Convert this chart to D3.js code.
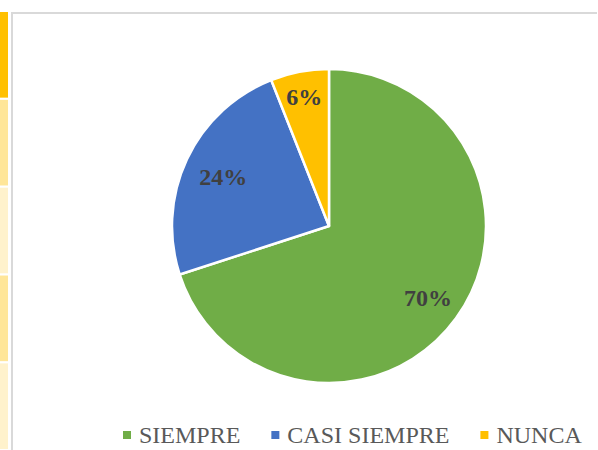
<!DOCTYPE html>
<html>
<head>
<meta charset="utf-8">
<script src="https://cdn.jsdelivr.net/npm/d3@7"></script>
<style>
  body { margin: 0; background: #fff; }
  svg { display: block; }
  text { font-family: "Times New Roman", "Liberation Serif", Times, serif; }
</style>
</head>
<body>
<div id="chart-area"></div>
<script>
// Data
var categories = ["SIEMPRE", "CASI SIEMPRE", "NUNCA"];
var values = [70, 24, 6];
var colors = ["#70AD47", "#4472C4", "#FFC000"];

// Background table strips on the left edge
var stripColors = ["#FFC000", "#FFE699", "#FFF2CC", "#FFE699", "#FFF2CC"];

var width = 598,
    height = 450;

var svg = d3.select("#chart-area").append("svg")
    .attr("width", width)
    .attr("height", height);

// Strips (part of the spreadsheet behind the chart)
var stripY = d3.scaleBand()
    .domain(d3.range(stripColors.length))
    .range([12, 449])
    .paddingInner(0.025);

svg.selectAll("rect.strip")
    .data(stripColors)
    .enter().append("rect")
    .attr("class", "strip")
    .attr("x", 0)
    .attr("y", (d, i) => stripY(i))
    .attr("width", 8)
    .attr("height", stripY.bandwidth())
    .attr("fill", (d) => d);

// Chart frame
svg.append("path")
    .attr("d", "M12,452 L12,13 L597,13")
    .attr("fill", "none")
    .attr("stroke", "#D9D9D9")
    .attr("stroke-width", 2);

// Pie
var cx = 329, cy = 226, radius = 157;

var g = svg.append("g")
    .attr("transform", "translate(" + cx + "," + cy + ")");

var pie = d3.pie().sort(null).value((d) => d);
var arcs = pie(values);

var arc = d3.arc().innerRadius(0).outerRadius(radius);

// label distance from centre, as share of the radius (best-fit placement)
function labelPos(d) {
    var share = (d.endAngle - d.startAngle) / (2 * Math.PI);
    var k = share > 0.5 ? 0.78 : share > 0.15 ? 0.745 : 0.84;
    var a = (d.startAngle + d.endAngle) / 2;
    return [Math.sin(a) * radius * k, -Math.cos(a) * radius * k];
}

g.selectAll("path.slice")
    .data(arcs)
    .enter().append("path")
    .attr("class", "slice")
    .attr("d", arc)
    .attr("fill", (d, i) => colors[i])
    .attr("stroke", "#fff")
    .attr("stroke-width", 2.5)
    .attr("stroke-linejoin", "round");

g.selectAll("text.label")
    .data(arcs)
    .enter().append("text")
    .attr("class", "label")
    .attr("transform", (d) => "translate(" + labelPos(d) + ")")
    .attr("text-anchor", "middle")
    .attr("dy", "0.35em")
    .attr("font-weight", "bold")
    .attr("font-size", 24)
    .attr("fill", "#404040")
    .text((d) => d.data + "%");

// Legend
var legend = svg.append("g").attr("class", "legend");
var lx = 123, ly = 443;

categories.forEach((c, i) => {
    legend.append("rect")
        .attr("x", lx)
        .attr("y", ly - 12)
        .attr("width", 8)
        .attr("height", 8)
        .attr("fill", colors[i]);
    var t = legend.append("text")
        .attr("x", lx + 16)
        .attr("y", ly)
        .attr("font-size", 24)
        .attr("fill", "#595959")
        .text(c);
    lx += 16 + t.node().getComputedTextLength() + 31;
});
</script>
</body>
</html>
